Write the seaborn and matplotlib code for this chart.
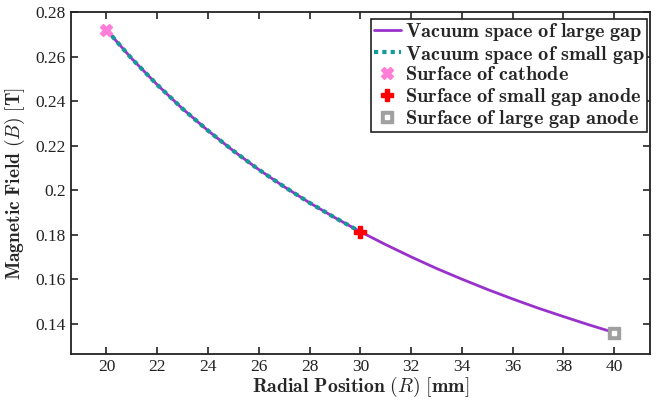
import matplotlib
matplotlib.use("Agg")
import matplotlib.pyplot as plt
from matplotlib.legend_handler import HandlerTuple
import seaborn as sns
import pandas as pd

# Data
r_large = [20, 21, 22, 23, 24, 25, 26, 27, 28, 29, 30, 31, 32, 33, 34, 35, 36, 37, 38, 39, 40]
b_large = [0.272, 0.259, 0.2473, 0.2365, 0.2267, 0.2176, 0.2092, 0.2015, 0.1943, 0.1876, 0.1813,
           0.1755, 0.1700, 0.1648, 0.1600, 0.1554, 0.1511, 0.1470, 0.1432, 0.1395, 0.1360]
r_small = [20, 21, 22, 23, 24, 25, 26, 27, 28, 29, 30]
b_small = [0.272, 0.259, 0.2473, 0.2365, 0.2267, 0.2176, 0.2092, 0.2015, 0.1943, 0.1876, 0.1813]
cathode = (20, 0.272)
small_anode = (30, 0.1813)
large_anode = (40, 0.136)

x_ticks = [20, 22, 24, 26, 28, 30, 32, 34, 36, 38, 40]
y_ticks = [0.14, 0.16, 0.18, 0.2, 0.22, 0.24, 0.26, 0.28]
y_tick_labels = ["0.14", "0.16", "0.18", "0.2", "0.22", "0.24", "0.26", "0.28"]

sns.set_style("ticks")
plt.rcParams["font.family"] = ["Liberation Serif", "DejaVu Serif"]
plt.rcParams["mathtext.fontset"] = "cm"

fig, ax = plt.subplots(figsize=(6.57, 4.0), dpi=100)
fig.subplots_adjust(left=0.108, right=0.989, top=0.97, bottom=0.114)

df_l = pd.DataFrame({"R": r_large, "B": b_large})
df_s = pd.DataFrame({"R": r_small, "B": b_small})
sns.lineplot(data=df_l, x="R", y="B", ax=ax, color="#9932CC", lw=2,
             label="Vacuum space of large gap")
sns.lineplot(data=df_s, x="R", y="B", ax=ax, color="#139C96", lw=3,
             linestyle=(0, (1, 1)), label="Vacuum space of small gap")
h_cat, = ax.plot([cathode[0]], [cathode[1]], marker="X", ls="none", color="#FF7FD8", ms=9,
                 mec="#FF7FD8", label="Surface of cathode")
h_sa, = ax.plot([small_anode[0]], [small_anode[1]], marker="P", ls="none", color="#FF0000", ms=9,
                mec="#FF0000", label="Surface of small gap anode")
h_la, = ax.plot([large_anode[0]], [large_anode[1]], marker="s", ls="none", color="#A0A0A0", ms=8,
                mec="#A0A0A0", label="Surface of large gap anode")
h_dot, = ax.plot([large_anode[0]], [large_anode[1]], marker="s", ls="none", color="white", ms=2.6,
                 mec="white")

ax.set_xlim(18.6, 41.4)
ax.set_ylim(0.1262, 0.28)
ax.set_xticks(x_ticks)
ax.set_xticklabels([str(t) for t in x_ticks])
ax.set_yticks(y_ticks)
ax.set_yticklabels(y_tick_labels)
ax.tick_params(direction="in", top=True, right=True, length=5, width=1.2,
               labelsize=12.5, colors="#222222", labelcolor="#222222")
ax.tick_params(axis="x", pad=3.5)
for s in ax.spines.values():
    s.set_linewidth(1.3)
    s.set_color("#222222")

ax.set_xlabel(r"$\mathbf{Radial\ Position\ (}\mathit{R}\mathbf{)\ [mm]}$", fontsize=14.2, labelpad=0)
ax.set_ylabel(r"$\mathbf{Magnetic\ Field\ (}\mathit{B}\mathbf{)\ [T]}$", fontsize=14, labelpad=6)

handles, labels = ax.get_legend_handles_labels()
handles = handles[:5]
labels = labels[:5]
handles[4] = (h_la, h_dot)
leg = ax.legend(handles, labels, loc="upper right", bbox_to_anchor=(0.998, 0.985),
                frameon=True, fancybox=False, edgecolor="#222222", framealpha=1,
                handlelength=1.35, handletextpad=0.2, borderpad=0.1, labelspacing=0.02,
                borderaxespad=0.1, prop={"size": 14.6},
                handler_map={tuple: HandlerTuple(ndivide=1)})
leg.get_frame().set_linewidth(1.2)
for t in leg.get_texts():
    t.set_text(r"$\mathbf{" + t.get_text().replace(" ", r"\ ") + "}$")

fig.savefig("out.png", dpi=100)
